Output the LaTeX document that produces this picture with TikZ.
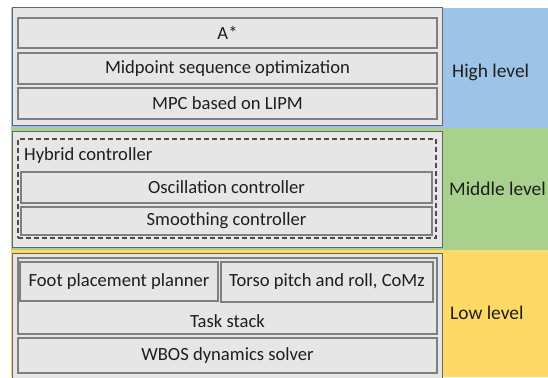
\documentclass[tikz,border=0pt]{standalone}
\usepackage{fontspec}
\setmainfont{Carlito}
\definecolor{bhigh}{HTML}{9DC3E6}
\definecolor{bmid}{HTML}{A9D18E}
\definecolor{blow}{HTML}{FFD966}
\definecolor{boxfill}{HTML}{E7E6E6}
\definecolor{boxline}{HTML}{7F7F7F}
\definecolor{txt}{HTML}{1E1E1E}
\begin{document}
\begin{tikzpicture}[x=1pt,y=-1pt,
  every node/.style={text=txt,font=\fontsize{18.6}{21}\selectfont},
  outerbox/.style={draw=boxline!80!black,line width=1pt,fill=boxfill,minimum width=430pt,inner sep=0pt},
  inbox/.style={draw=boxline,line width=1.2pt,fill=boxfill,inner sep=0pt},
  dashbox/.style={draw=boxline!60!black,line width=1.2pt,dashed,dash pattern=on 5pt off 3pt,inner sep=0pt},
  lvl/.style={anchor=west,inner sep=0pt,font=\fontsize{19.4}{22}\selectfont}]
\useasboundingbox (0,0) rectangle (548,377);
\clip (0,0) rectangle (548,377);
\fill[white] (0,0) rectangle (548,377);
% bands
\fill[bhigh] (11,8) rectangle (548,128);
\fill[bmid] (11,128) rectangle (548,249.5);
\fill[blow] (11,249.5) rectangle (548,377);
% high level
\node[outerbox,minimum height=117pt] (high) at (227,66.5) {};
\node[inbox,minimum width=419pt,minimum height=30pt] (astar) at (227.5,33) {A*};
\node[inbox,minimum width=419pt,minimum height=31pt] (mid) at (227.5,68.5) {Midpoint sequence optimization};
\node[inbox,minimum width=419pt,minimum height=31pt] (mpc) at (227.5,103.5) {MPC based on LIPM};
\node[lvl] (hl) at (452,72) {High level};
% middle level
\node[outerbox,minimum height=116pt] (middle) at (227,189) {};
\node[dashbox,minimum width=418pt,minimum height=99pt] (hyb) at (227,188.5) {};
\node[anchor=west,inner sep=0pt] (hyblab) at (24,156) {Hybrid controller};
\node[inbox,minimum width=411pt,minimum height=31pt] (osc) at (226.5,187.5) {Oscillation controller};
\node[inbox,minimum width=411pt,minimum height=28pt] (smo) at (226.5,221) {Smoothing controller};
\node[lvl] (ml) at (449,189) {Middle level};
% low level
\node[outerbox,minimum height=130pt] (low) at (227,318) {};
\node[inbox,minimum width=419pt,minimum height=76pt] (task) at (227.5,296) {};
\node (tasklab) at (227.5,321) {Task stack};
\node[inbox,minimum width=198pt,minimum height=39pt] (foot) at (119,281.5) {Foot placement planner};
\node[inbox,minimum width=212pt,minimum height=40pt] (torso) at (327,282) {Torso pitch and roll, CoMz};
\node[inbox,minimum width=419pt,minimum height=35pt] (wbos) at (227.5,355.5) {WBOS dynamics solver};
\node[lvl] (ll) at (450,313) {Low level};
\end{tikzpicture}
\end{document}
